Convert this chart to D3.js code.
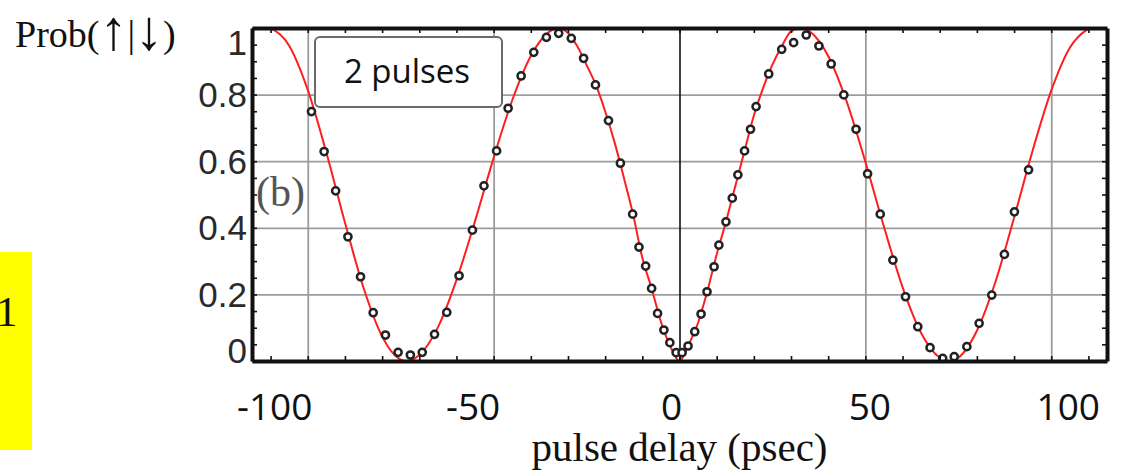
<!DOCTYPE html>
<html>
<head>
<meta charset="utf-8">
<script src="https://cdn.jsdelivr.net/npm/d3@7"></script>
<style>
  html, body { margin: 0; padding: 0; background: #fff; }
  svg { display: block; }
</style>
</head>
<body>
<script>
// ---------- data ----------
const curveT = [-110, -105, -100, -95, -90, -85, -80, -75, -73.5, -70, -65, -60, -55, -50, -45, -40, -35, -32.5,
  -30, -27.5, -25, -22.5, -20, -17.5, -15, -12.5, -10, -7.5, -5, -2.5, 0, 2.5, 5, 7.5, 10, 12.5, 15, 17.5, 20,
  22.5, 25, 27.5, 30, 32.5, 35, 40, 45, 50, 55, 60, 65, 70, 72.5, 75, 80, 85, 90, 95, 100, 105, 110];
const curveP = [1.0, 0.947, 0.814, 0.626, 0.416, 0.220, 0.074, 0.004, 0.0, 0.018, 0.101, 0.243, 0.420, 0.610, 0.783, 0.916, 0.989, 1.0,
  0.985, 0.945, 0.889, 0.829, 0.750, 0.658, 0.552, 0.441, 0.310, 0.218, 0.118, 0.045, 0.0, 0.050, 0.115, 0.210, 0.320, 0.418, 0.525, 0.631, 0.737,
  0.820, 0.890, 0.945, 0.990, 1.0, 0.990, 0.916, 0.778, 0.598, 0.403, 0.222, 0.084, 0.010, 0.0, 0.010, 0.091, 0.238, 0.430, 0.632, 0.812, 0.941, 0.998];

const dataT = [-99.0, -95.6, -92.5, -89.2, -85.8, -82.4, -79.1, -75.7, -72.4, -69.2, -65.9, -62.6, -59.3, -55.7, -52.6, -49.2,
  -46.1, -42.6, -39.2, -35.8, -32.5, -29.1, -25.8, -22.6, -19.1, -15.9, -12.6, -10.9, -9.1, -7.5, -5.9, -4.2, -2.6, -0.9,
  0.7, 2.3, 4.1, 5.8, 7.4, 9.3, 10.6, 12.5, 14.2, 15.7, 17.5, 19.1, 20.6, 24.0, 27.5, 30.7, 34.1, 37.5, 40.8, 44.2, 47.5,
  50.6, 54.0, 57.4, 60.8, 64.1, 67.4, 70.8, 73.9, 77.3, 80.6, 84.0, 87.4, 90.1, 93.9];
const dataP = [0.749, 0.629, 0.511, 0.373, 0.253, 0.145, 0.078, 0.026, 0.018, 0.026, 0.080, 0.146, 0.256, 0.393, 0.526, 0.631,
  0.759, 0.856, 0.927, 0.972, 0.984, 0.969, 0.909, 0.829, 0.722, 0.594, 0.441, 0.342, 0.285, 0.218, 0.143, 0.093, 0.055, 0.025,
  0.025, 0.045, 0.088, 0.141, 0.208, 0.283, 0.348, 0.418, 0.489, 0.559, 0.631, 0.696, 0.764, 0.862, 0.936, 0.956, 0.979, 0.946, 0.892, 0.799, 0.696,
  0.562, 0.441, 0.303, 0.193, 0.103, 0.040, 0.008, 0.013, 0.043, 0.113, 0.198, 0.320, 0.448, 0.574];

const xLabelValues = [-100, -50, 0, 50, 100];
const yLabelValues = [0, 0.2, 0.4, 0.6, 0.8, 1];
const xGridValues = [-100, -50, 50, 100];
const yGridValues = [0.2, 0.4, 0.6, 0.8];
const xMinorTicks = d3.range(-110, 111, 10);
const yMinorTicks = d3.range(0, 1.0001, 0.05);

// ---------- layout ----------
const W = 1121, H = 470;
const plot = { left: 252, right: 1107, top: 28, bottom: 361 };

const svg = d3.select("body").append("svg").attr("width", W).attr("height", H);
svg.append("rect").attr("width", W).attr("height", H).attr("fill", "#fff");

const x = d3.scaleLinear().domain([-115, 115]).range([plot.left, plot.right]);
const y = d3.scaleLinear().domain([0, 1]).range([plot.bottom, plot.top]);

const g = svg.append("g");

// grid lines
g.append("g").attr("transform", `translate(0,${plot.bottom})`)
  .call(d3.axisBottom(x).tickValues(xGridValues).tickSize(-(plot.bottom - plot.top)).tickFormat(""))
  .call(s => s.select(".domain").remove())
  .call(s => s.selectAll("line").attr("stroke", "#9c9c9c").attr("stroke-width", 1.8));
g.append("g").attr("transform", `translate(${plot.left},0)`)
  .call(d3.axisLeft(y).tickValues(yGridValues).tickSize(-(plot.right - plot.left)).tickFormat(""))
  .call(s => s.select(".domain").remove())
  .call(s => s.selectAll("line").attr("stroke", "#9c9c9c").attr("stroke-width", 1.8));

// zero line
g.append("g").attr("transform", `translate(0,${plot.bottom})`)
  .call(d3.axisBottom(x).tickValues([0]).tickSize(-(plot.bottom - plot.top)).tickFormat(""))
  .call(s => s.select(".domain").remove())
  .call(s => s.selectAll("line").attr("stroke", "#111").attr("stroke-width", 1.6));

// theory curve
const curveData = curveT.map((t, i) => [t, curveP[i]]);
g.append("path")
  .datum(curveData)
  .attr("fill", "none")
  .attr("stroke", "#ff1e1e")
  .attr("stroke-width", 2)
  .attr("d", d3.line().x(d => x(d[0])).y(d => y(d[1])).curve(d3.curveMonotoneX));

// data points
const pts = dataT.map((t, i) => [t, dataP[i]]);
g.append("g").selectAll("circle").data(pts).join("circle")
  .attr("cx", d => x(d[0]))
  .attr("cy", d => y(d[1]))
  .attr("r", 3.6)
  .attr("fill", "#fff")
  .attr("stroke", "#222")
  .attr("stroke-width", 2.5);

// frame with inward minor ticks
function styleFrame(s) {
  s.select(".domain").attr("stroke", "#111").attr("stroke-width", 4);
  s.selectAll(".tick line").attr("stroke", "#111").attr("stroke-width", 1.6);
}
g.append("g").attr("transform", `translate(0,${plot.bottom})`)
  .call(d3.axisBottom(x).tickValues(xMinorTicks).tickSize(-5).tickSizeOuter(0).tickFormat(""))
  .call(styleFrame);
g.append("g").attr("transform", `translate(0,${plot.top})`)
  .call(d3.axisTop(x).tickValues(xMinorTicks).tickSize(-5).tickSizeOuter(0).tickFormat(""))
  .call(styleFrame);
g.append("g").attr("transform", `translate(${plot.left},0)`)
  .call(d3.axisLeft(y).tickValues(yMinorTicks).tickSize(-5).tickSizeOuter(0).tickFormat(""))
  .call(styleFrame);
g.append("g").attr("transform", `translate(${plot.right},0)`)
  .call(d3.axisRight(y).tickValues(yMinorTicks).tickSize(-5).tickSizeOuter(0).tickFormat(""))
  .call(styleFrame);

// y tick labels
const yFmt = d => (d === 0 ? "0" : d === 1 ? "1" : d.toFixed(1));
const yLabelPos = d => Math.min(Math.max(y(d), y(1) + 14), y(0) - 11);
svg.append("g").selectAll("text").data(yLabelValues).join("text")
  .attr("x", plot.left - 5)
  .attr("y", d => yLabelPos(d))
  .attr("dy", "0.36em")
  .attr("text-anchor", "end")
  .attr("font-family", "'Liberation Sans', Arial, sans-serif")
  .attr("font-size", 35)
  .attr("fill", "#2a2a2a")
  .text(yFmt);

// x tick labels (overlaid row, slightly wider than the axis)
const xLab = d3.scaleLinear().domain([-100, 100]).range([x(-100) - 33, x(100) + 17]);
svg.append("g").selectAll("text").data(xLabelValues).join("text")
  .attr("x", d => xLab(d))
  .attr("y", 420)
  .attr("text-anchor", "middle")
  .attr("font-family", "'Open Sans', sans-serif")
  .attr("font-size", 37)
  .attr("fill", "#111")
  .text(d => String(d));

// axis titles
svg.append("text")
  .attr("x", x(0)).attr("y", 461)
  .attr("text-anchor", "middle")
  .attr("font-family", "'Liberation Serif', 'Times New Roman', serif")
  .attr("font-size", 41)
  .attr("fill", "#111")
  .text("pulse delay (psec)");

const yt = svg.append("text")
  .attr("x", 15).attr("y", 47)
  .attr("font-family", "'Liberation Serif', 'Times New Roman', serif")
  .attr("font-size", 38)
  .attr("fill", "#111");
yt.append("tspan").text("Prob(");
yt.append("tspan").attr("font-size", 56).attr("dy", 2).text("↑");
yt.append("tspan").attr("dy", -2).text("|");
yt.append("tspan").attr("font-size", 56).attr("dy", 2).text("↓");
yt.append("tspan").attr("dy", -2).text(")");

// (b) panel label
svg.append("text")
  .attr("x", 256).attr("y", 206)
  .attr("font-family", "'Liberation Serif', 'Times New Roman', serif")
  .attr("font-size", 42)
  .attr("fill", "#555")
  .text("(b)");

// "2 pulses" box
svg.append("rect")
  .attr("x", 315).attr("y", 37).attr("width", 187).attr("height", 70)
  .attr("rx", 5).attr("ry", 5)
  .attr("fill", "#fff").attr("stroke", "#6a6a6a").attr("stroke-width", 2);
svg.append("text")
  .attr("x", 407).attr("y", 83)
  .attr("text-anchor", "middle")
  .attr("font-family", "'Open Sans', sans-serif")
  .attr("font-size", 33)
  .attr("fill", "#111")
  .text("2 pulses");

// yellow tag at left
svg.append("rect")
  .attr("x", 0).attr("y", 252).attr("width", 32).attr("height", 198)
  .attr("fill", "#ffff00");
svg.append("text")
  .attr("x", -4).attr("y", 326)
  .attr("font-family", "'Liberation Serif', 'Times New Roman', serif")
  .attr("font-size", 43)
  .attr("fill", "#111")
  .text("1");
</script>
</body>
</html>
